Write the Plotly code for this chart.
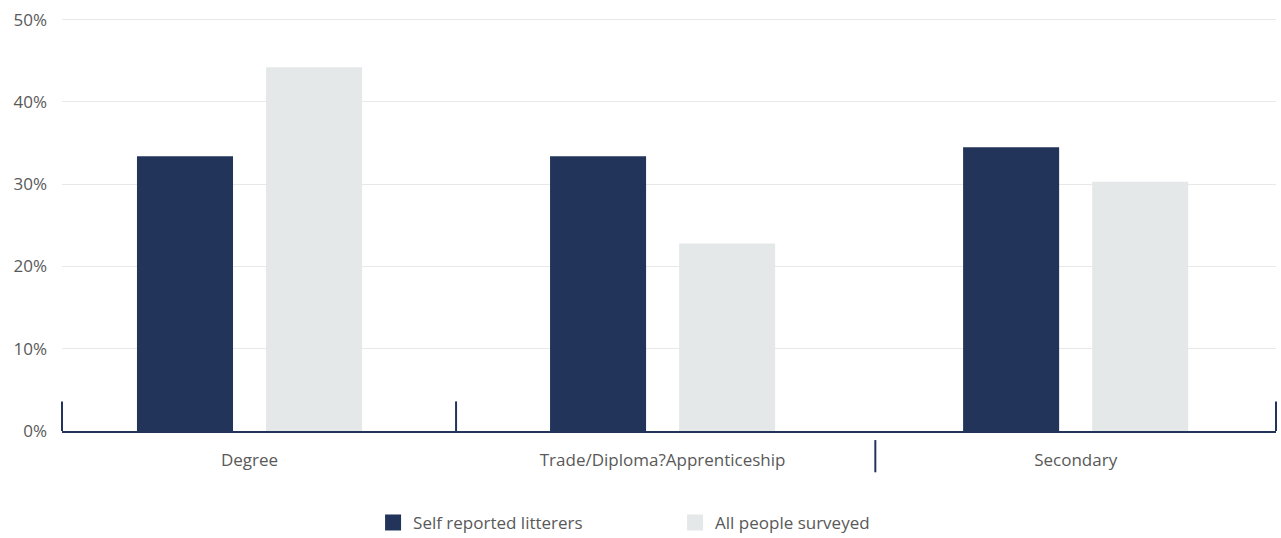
import plotly.graph_objects as go

categories = ["Degree", "Trade/Diploma?Apprenticeship", "Secondary"]
litterers = [33.4, 33.4, 34.5]
all_surveyed = [44.2, 22.8, 30.3]
y_ticks = [0, 10, 20, 30, 40, 50]
y_labels = [f"{v}%" for v in y_ticks]

NAVY = "#23345a"
LIGHT = "#e4e8e8"
TEXT = "#595959"
FONT = "Open Sans, Roboto, sans-serif"

fig = go.Figure()
fig.add_trace(go.Bar(x=categories, y=litterers, name="Self reported litterers",
                     marker=dict(color=NAVY, line_width=0), showlegend=False))
fig.add_trace(go.Bar(x=categories, y=all_surveyed, name="All people surveyed",
                     marker=dict(color=LIGHT, line_width=0), showlegend=False))

# legend entries with larger squares than the default bar swatch
for name, color in [("Self reported litterers", NAVY), ("All people surveyed", LIGHT)]:
    fig.add_trace(go.Scatter(x=[None], y=[None], mode="markers", name=name,
                             marker=dict(symbol="square", size=22, color=color)))

# axis decorations: end ticks and in-between ticks
deco = dict(type="line", line=dict(color=NAVY, width=2))
fig.add_shape(xref="paper", yref="y", x0=0, x1=0, y0=0, y1=3.6, **deco)
fig.add_shape(xref="paper", yref="y", x0=1, x1=1, y0=0, y1=3.6, **deco)
fig.add_shape(xref="x", yref="y", x0=0.5, x1=0.5, y0=0, y1=3.6, **deco)
fig.add_shape(xref="x", yref="paper", x0=1.515, x1=1.515, y0=-0.022, y1=-0.1, **deco)

fig.update_layout(
    width=1281,
    height=538,
    margin=dict(l=62, r=5, t=18, b=107),
    plot_bgcolor="white",
    paper_bgcolor="white",
    barmode="group",
    bargap=0.375,
    bargroupgap=0.256,
    font=dict(family=FONT, size=17, color=TEXT),
    legend=dict(orientation="h", x=0.505, xanchor="center",
                yref="container", y=0.028, yanchor="middle",
                entrywidth=257, entrywidthmode="pixels",
                itemsizing="trace", font=dict(size=17, color=TEXT)),
)
fig.update_xaxes(type="category", range=[-0.454, 2.485], showgrid=False,
                 showline=True, linecolor=NAVY, linewidth=2, ticks="",
                 ticklabelstandoff=13, zeroline=False)
fig.update_yaxes(range=[0, 50.2], tickvals=y_ticks, ticktext=y_labels, showgrid=True,
                 gridcolor="#e8e8e8", gridwidth=1, zeroline=False, showline=False,
                 ticks="", ticklabelstandoff=14)

fig.write_html("out.html", config={"displayModeBar": False},
               post_script="document.body.style.margin='0';")
